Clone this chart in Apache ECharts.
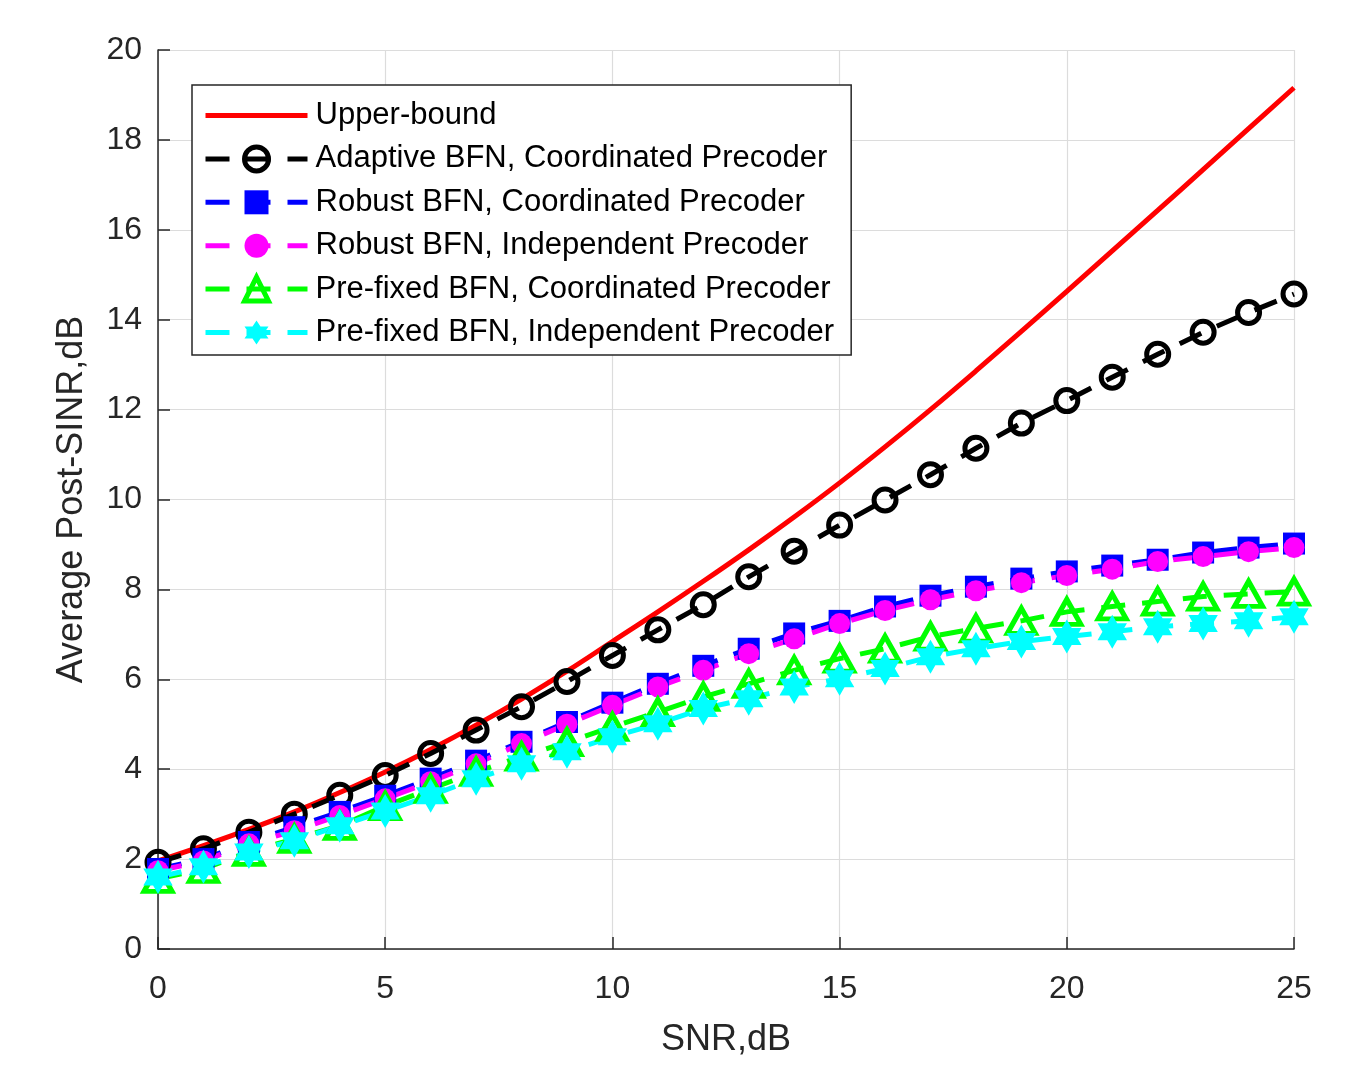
<!DOCTYPE html>
<html>
<head>
<meta charset="utf-8">
<script src="https://cdn.jsdelivr.net/npm/echarts@6/dist/echarts.min.js"></script>
<style>
html,body{margin:0;padding:0;background:#fff;}
#chart{width:1370px;height:1070px;}
</style>
</head>
<body>
<div id="chart"></div>
<script>
const snr = [0,1,2,3,4,5,6,7,8,9,10,11,12,13,14,15,16,17,18,19,20,21,22,23,24,25];
const upperBound = [1.96,2.3,2.66,3.05,3.48,3.94,4.44,4.98,5.56,6.18,6.84,7.5,8.18,8.88,9.61,10.37,11.17,12.0,12.86,13.74,14.63,15.53,16.43,17.34,18.25,19.16];
const adaptiveCoord = [1.93,2.23,2.6,3.0,3.42,3.86,4.35,4.87,5.39,5.95,6.53,7.1,7.66,8.28,8.85,9.43,9.99,10.55,11.14,11.7,12.2,12.72,13.23,13.72,14.16,14.57];
const robustCoord = [1.78,2.0,2.38,2.71,3.05,3.41,3.79,4.19,4.61,5.05,5.48,5.9,6.3,6.68,7.02,7.3,7.62,7.86,8.06,8.24,8.4,8.53,8.66,8.82,8.93,9.02];
const robustIndep = [1.74,1.96,2.34,2.63,2.97,3.34,3.72,4.12,4.57,5.0,5.42,5.83,6.2,6.57,6.9,7.24,7.53,7.77,7.97,8.15,8.31,8.45,8.62,8.73,8.84,8.93];
const prefixedCoord = [1.56,1.78,2.16,2.45,2.74,3.18,3.56,3.94,4.28,4.6,4.94,5.27,5.61,5.9,6.2,6.46,6.68,6.95,7.13,7.3,7.5,7.62,7.73,7.84,7.9,7.95];
const prefixedIndep = [1.6,1.83,2.16,2.41,2.74,3.07,3.41,3.79,4.12,4.39,4.72,5.01,5.35,5.57,5.83,6.01,6.24,6.5,6.68,6.84,6.95,7.06,7.17,7.24,7.3,7.39];
const seriesNames = ['Upper-bound','Adaptive BFN, Coordinated Precoder','Robust BFN, Coordinated Precoder','Robust BFN, Independent Precoder','Pre-fixed BFN, Coordinated Precoder','Pre-fixed BFN, Independent Precoder'];
const xTicks = {min:0, max:25, interval:5};
const yTicks = {min:0, max:20, interval:2};

const FONT = '"Liberation Sans", Arial, Helvetica, sans-serif';
const DASH = [24, 17];
const hexagram = 'path://M50,0 L64.43,25 L93.3,25 L78.87,50 L93.3,75 L64.43,75 L50,100 L35.57,75 L6.7,75 L21.13,50 L6.7,25 L35.57,25 Z';
const pairs = arr => snr.map((x,i)=>[x, arr[i]]);

const chart = echarts.init(document.getElementById('chart'), null, {renderer:'canvas'});
const axisCommon = {
  axisLine:{show:true, onZero:false, lineStyle:{color:'#262626', width:1.5}},
  axisTick:{show:true, inside:true, length:12, lineStyle:{color:'#262626', width:1.5}},
  splitLine:{show:true, lineStyle:{color:'#dcdcdc', width:1.2}},
  nameTextStyle:{fontSize:36, color:'#262626', fontFamily:FONT}
};
chart.setOption({
  backgroundColor:'#ffffff',
  animation:false,
  grid:{left:158, right:76, top:50, bottom:121, containLabel:false},
  xAxis:Object.assign({}, axisCommon, {
    type:'value', min:xTicks.min, max:xTicks.max, interval:xTicks.interval,
    name:'SNR,dB', nameLocation:'middle', nameGap:73,
    axisLabel:{fontSize:32, color:'#262626', fontFamily:FONT, margin:24}
  }),
  yAxis:Object.assign({}, axisCommon, {
    type:'value', min:yTicks.min, max:yTicks.max, interval:yTicks.interval,
    name:'Average Post-SINR,dB', nameLocation:'middle', nameGap:68,
    axisLabel:{fontSize:32, color:'#262626', fontFamily:FONT, margin:16}
  }),
  legend:{
    orient:'vertical', left:192, top:85,
    padding:[15,17,7,11],
    itemWidth:102, itemHeight:30, itemGap:12.4,
    backgroundColor:'#ffffff', borderColor:'#262626', borderWidth:1.5,
    textStyle:{fontSize:31, color:'#000', fontFamily:FONT, padding:[0,0,0,3]},
    lineStyle:{width:5},
    data:[
      {name:seriesNames[0], icon:'path://M0,0 L100,0 L100,5 L0,5 Z'},
      {name:seriesNames[1], itemStyle:{borderWidth:5}},
      {name:seriesNames[2]},
      {name:seriesNames[3]},
      {name:seriesNames[4], itemStyle:{borderWidth:5}},
      {name:seriesNames[5]}
    ]
  },
  series:[
    {name:seriesNames[0], type:'line', data:pairs(upperBound), showSymbol:false, symbol:'none', smooth:0.4,
     lineStyle:{color:'#ff0000', width:5, type:'solid'}, itemStyle:{color:'#ff0000'}, emphasis:{disabled:true}},
    {name:seriesNames[1], type:'line', data:pairs(adaptiveCoord), symbol:'circle', symbolSize:22,
     lineStyle:{color:'#000000', width:5, type:DASH},
     itemStyle:{color:'rgba(0,0,0,0)', borderColor:'#000000', borderWidth:5}, emphasis:{disabled:true}},
    {name:seriesNames[2], type:'line', data:pairs(robustCoord), symbol:'rect', symbolSize:22,
     lineStyle:{color:'#0000ff', width:5, type:DASH},
     itemStyle:{color:'#0000ff'}, emphasis:{disabled:true}},
    {name:seriesNames[3], type:'line', data:pairs(robustIndep), symbol:'circle', symbolSize:21,
     lineStyle:{color:'#ff00ff', width:5, type:DASH},
     itemStyle:{color:'#ff00ff'}, emphasis:{disabled:true}},
    {name:seriesNames[4], type:'line', data:pairs(prefixedCoord), symbol:'triangle', symbolSize:[28,25],
     lineStyle:{color:'#00ff00', width:5, type:DASH},
     itemStyle:{color:'rgba(0,0,0,0)', borderColor:'#00ff00', borderWidth:5}, emphasis:{disabled:true}},
    {name:seriesNames[5], type:'line', data:pairs(prefixedIndep), symbol:hexagram, symbolSize:34, symbolKeepAspect:true,
     lineStyle:{color:'#00ffff', width:5, type:DASH},
     itemStyle:{color:'#00ffff'}, emphasis:{disabled:true}}
  ]
});
</script>
</body>
</html>
